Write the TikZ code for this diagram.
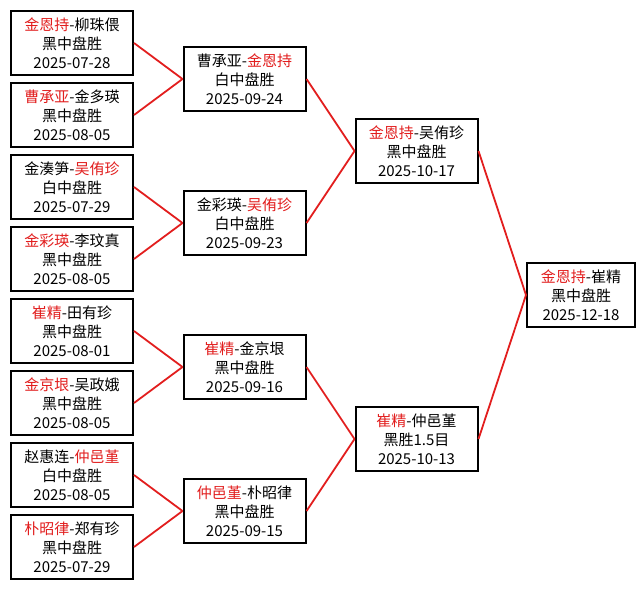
\documentclass[tikz,border=0pt]{standalone}
\usepackage{fontspec}
\setmainfont{Noto Sans CJK SC}
\usepackage{xcolor}
\usepackage{tikz}
\definecolor{hong}{RGB}{226,30,30}
\newcommand{\sheng}[1]{\textcolor{hong}{#1}}
\tikzset{
  duiju/.style={draw=black,line width=2pt,fill=white,align=center,
    minimum width=122pt,minimum height=64pt,inner sep=0pt,
    font=\fontsize{15}{19}\selectfont},
  lianxian/.style={draw=hong,line width=1.8pt}
}

\begin{document}
\begin{tikzpicture}[x=1pt,y=-1pt]
\useasboundingbox (0,0) rectangle (644,589);
% first round
\node[duiju] (r1a) at (72,43)  {\sheng{金恩持}-柳珠偎\\黑中盘胜\\2025-07-28};
\node[duiju] (r1b) at (72,115) {\sheng{曹承亚}-金多瑛\\黑中盘胜\\2025-08-05};
\node[duiju] (r1c) at (72,187) {金湊笋-\sheng{吴侑珍}\\白中盘胜\\2025-07-29};
\node[duiju] (r1d) at (72,259) {\sheng{金彩瑛}-李玟真\\黑中盘胜\\2025-08-05};
\node[duiju] (r1e) at (72,331) {\sheng{崔精}-田有珍\\黑中盘胜\\2025-08-01};
\node[duiju] (r1f) at (72,403) {\sheng{金京垠}-吴政娥\\黑中盘胜\\2025-08-05};
\node[duiju] (r1g) at (72,475) {赵惠连-\sheng{仲邑堇}\\白中盘胜\\2025-08-05};
\node[duiju] (r1h) at (72,547) {\sheng{朴昭律}-郑有珍\\黑中盘胜\\2025-07-29};
% quarter finals
\node[duiju] (r2a) at (244.5,79)  {曹承亚-\sheng{金恩持}\\白中盘胜\\2025-09-24};
\node[duiju] (r2b) at (244.5,223) {金彩瑛-\sheng{吴侑珍}\\白中盘胜\\2025-09-23};
\node[duiju] (r2c) at (244.5,367) {\sheng{崔精}-金京垠\\黑中盘胜\\2025-09-16};
\node[duiju] (r2d) at (244.5,511) {\sheng{仲邑堇}-朴昭律\\黑中盘胜\\2025-09-15};
% semi finals
\node[duiju] (r3a) at (416.5,151) {\sheng{金恩持}-吴侑珍\\黑中盘胜\\2025-10-17};
\node[duiju] (r3b) at (416.5,439) {\sheng{崔精}-仲邑堇\\黑胜1.5目\\2025-10-13};
% final
\node[duiju,minimum width=108pt] (jue) at (581,295) {\sheng{金恩持}-崔精\\黑中盘胜\\2025-12-18};
\foreach \a/\b in {r1a/r2a,r1b/r2a,r1c/r2b,r1d/r2b,r1e/r2c,r1f/r2c,r1g/r2d,r1h/r2d,
  r2a/r3a,r2b/r3a,r2c/r3b,r2d/r3b,r3a/jue,r3b/jue}{\draw[lianxian] (\a.east)--(\b.west);}
\end{tikzpicture}
\end{document}
